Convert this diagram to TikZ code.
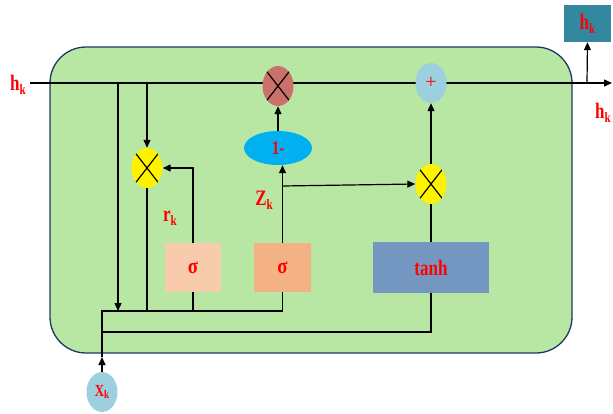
\documentclass[tikz,border=0pt]{standalone}
\usepackage{fontspec}
\setmainfont{Liberation Serif}
\usetikzlibrary{shapes.geometric,arrows.meta}
\definecolor{cellgreen}{HTML}{B8E6A3}
\definecolor{cellborder}{HTML}{203864}
\definecolor{lightblue}{HTML}{9DD0DF}
\definecolor{mulred}{HTML}{CB716B}
\definecolor{oneblue}{HTML}{00B0F0}
\definecolor{sigA}{HTML}{F8CBAD}
\definecolor{sigB}{HTML}{F4B183}
\definecolor{tanhblue}{HTML}{7497C1}
\definecolor{teal}{HTML}{33879F}
\newcommand{\lbl}[2]{\scalebox{1}[1.3]{\fontsize{17}{17}\selectfont\bfseries #1\raisebox{-3pt}{\fontsize{11}{11}\selectfont #2}}}
\newcommand{\smlbl}[2]{\scalebox{1}[1.3]{\fontsize{13}{13}\selectfont\bfseries #1\raisebox{-2pt}{\fontsize{9}{9}\selectfont #2}}}
\tikzset{
  conn/.style={line width=1.2pt, black},
  arr/.style={conn, -{Triangle[length=8pt,width=7pt]}},
  oval/.style={ellipse, inner sep=0pt, minimum width=31pt, minimum height=40pt},
  mulnode/.style={oval, path picture={
     \draw[line width=1.2pt] (path picture bounding box.north west) -- (path picture bounding box.south east);
     \draw[line width=1.2pt] (path picture bounding box.north east) -- (path picture bounding box.south west);}},
  gatebox/.style={rectangle, inner sep=0pt, text=red, font=\fontsize{17}{17}\selectfont\bfseries},
  redtxt/.style={text=red}
}
\begin{document}
\begin{tikzpicture}[x=1pt,y=-1pt]
\useasboundingbox (0,0) rectangle (613,413);
% cell
\draw[fill=cellgreen, draw=cellborder, line width=1.3pt, rounded corners=36pt] (50,47) rectangle (572,353);
% coordinates
\coordinate (hin) at (30,83);
\coordinate (hout) at (612,83);
\coordinate (b1top) at (118,83);
\coordinate (b1bot) at (118,311);
\coordinate (b2top) at (147,83);
\coordinate (b2bot) at (147,311);
\coordinate (jL) at (102,311);
\coordinate (jL2) at (102,332);
\coordinate (xarr) at (102,357);
\coordinate (s1bot) at (193,311);
\coordinate (zsplit) at (282,186);
\coordinate (hup) at (587,83);
% top line
\draw[arr] (hin) -- (hout);
% nodes
\node[mulnode, fill=mulred] (mulr) at (278,86) {};
\node[oval, fill=lightblue, text=red, font=\fontsize{20}{20}\selectfont] (plus) at (431,83) {+};
\node[mulnode, fill=yellow] (mul1) at (147,168) {};
\node[mulnode, fill=yellow] (mul2) at (431,184) {};
\node[ellipse, inner sep=0pt, minimum width=68pt, minimum height=34pt, fill=oneblue, text=red, font=\fontsize{15}{15}\selectfont\bfseries] (one) at (278,148) {\scalebox{1}[1.3]{1-}};
\node[gatebox, fill=sigA, minimum width=56pt, minimum height=49pt] (sig1) at (193,267.5) {\scalebox{1.1}[1.3]{σ}};
\node[gatebox, fill=sigB, minimum width=57pt, minimum height=49pt] (sig2) at (282.5,267.5) {\scalebox{1.1}[1.3]{σ}};
\node[gatebox, fill=tanhblue, minimum width=116pt, minimum height=51pt] (tanh) at (431,267.5) {\scalebox{1}[1.3]{tanh}};
\node[oval, fill=lightblue, text=red] (xk) at (102,392) {\smlbl{X}{k}};
\node[rectangle, inner sep=0pt, fill=teal, text=red, minimum width=47pt, minimum height=37pt] (hbox) at (587.5,23.5) {\lbl{h}{k}};
% labels
\node[redtxt] (hlab) at (18,85) {\lbl{h}{k}};
\node[redtxt] (hlab2) at (603,113) {\lbl{h}{k}};
\node[redtxt] (rlab) at (170,218) {\lbl{r}{k}};
\node[redtxt] (zlab) at (264,200) {\lbl{Z}{k}};
% connectors
\draw[arr] (b1top) -- (b1bot);
\draw[arr] (b2top) -- (mul1.north);
\draw[conn] (mul1.south) -- (b2bot);
\draw[arr] (sig1.north) |- (mul1.east);
\draw[conn] (sig1.south) -- (s1bot);
\draw[conn] (sig2.south) |- (jL) -- (jL2) -| (tanh.south);
\draw[arr] (xk.north) -- (xarr);
\draw[conn] (xarr) -- (jL);
\draw[arr] (sig2.north) -- (sig2.north |- one.south);
\draw[arr] (one.north) -- (mulr.south);
\draw[arr] (zsplit) -- (mul2.west);
\draw[conn] (tanh.north) -- (mul2.south);
\draw[arr] (mul2.north) -- (plus.south);
\draw[arr] (hup) -- (hbox.south);
\end{tikzpicture}
\end{document}
